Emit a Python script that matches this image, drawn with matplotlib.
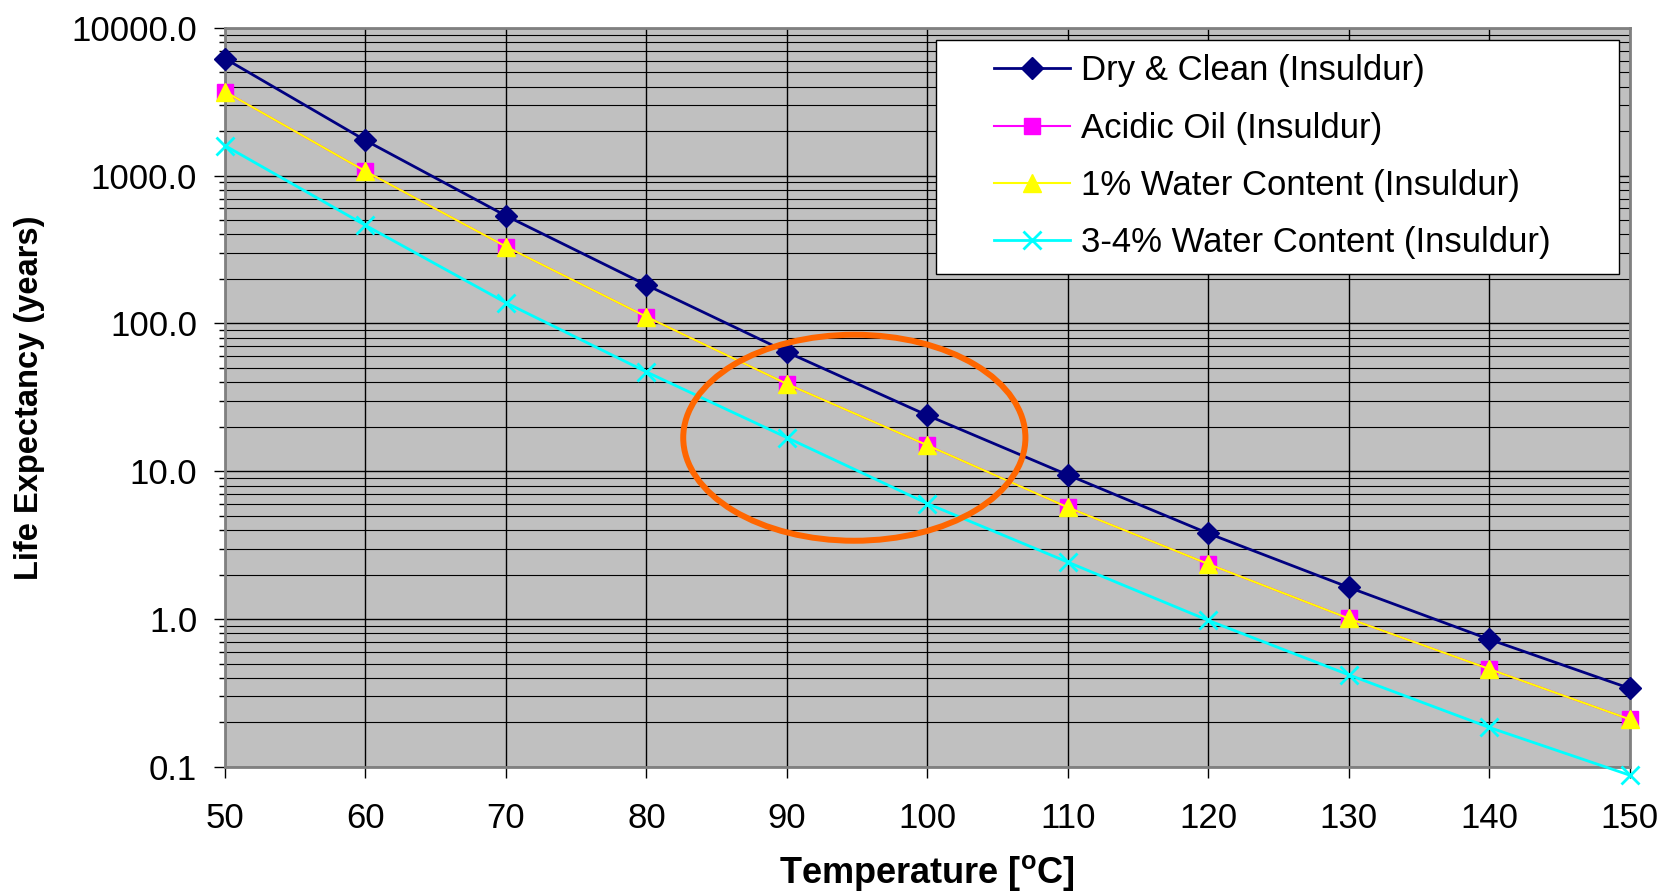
import numpy as np
import matplotlib.pyplot as plt
from matplotlib.patches import Ellipse, Rectangle
from matplotlib.ticker import LogLocator, NullFormatter

plt.rcParams['font.family'] = ['Liberation Sans', 'DejaVu Sans']

temps = [50, 60, 70, 80, 90, 100, 110, 120, 130, 140, 150]
dry_clean = [6190, 1730, 535, 182, 64, 23.9, 9.45, 3.8, 1.64, 0.73, 0.34]
acidic_oil = [3700, 1070, 331, 111, 39, 15.0, 5.7, 2.36, 1.01, 0.46, 0.21]
water_1 = [3700, 1070, 331, 111, 39, 15.0, 5.7, 2.36, 1.01, 0.46, 0.21]
water_34 = [1595, 461, 138, 47, 16.9, 6.05, 2.43, 0.98, 0.42, 0.185, 0.088]
ytick_vals = [0.1, 1, 10, 100, 1000, 10000]
ytick_labels = ['0.1', '1.0', '10.0', '100.0', '1000.0', '10000.0']

fig = plt.figure(figsize=(16.63, 8.96), dpi=100)
ax = fig.add_axes([0.1353, 0.144, 0.8447, 0.825])
ax.set_facecolor('#C0C0C0')

ax.plot(temps, dry_clean, '-', color='#000080', lw=2, marker='D', ms=11,
        label='Dry & Clean (Insuldur)', clip_on=False, zorder=4)
ax.plot(temps, acidic_oil, '-', color='#FF00FF', lw=1.5, marker='s', ms=11,
        label='Acidic Oil (Insuldur)', clip_on=False, zorder=3)
ax.plot(temps, water_1, '-', color='#FFFF00', lw=1.5, marker='^', ms=13,
        label='1% Water Content (Insuldur)', clip_on=False, zorder=4)
ax.plot(temps, water_34, '-', color='#00FFFF', lw=2, marker='x', ms=13, mew=2,
        label='3-4% Water Content (Insuldur)', clip_on=False, zorder=4)

ax.set_yscale('log')
ax.set_ylim(0.1, 10000)
ax.set_xlim(50, 150)
ax.set_xticks(temps)
ax.set_yticks(ytick_vals)
ax.set_yticklabels(ytick_labels)
ax.yaxis.set_minor_locator(LogLocator(base=10, subs=np.arange(2, 10)))
ax.yaxis.set_minor_formatter(NullFormatter())

ax.grid(True, which='major', axis='both', color='black', lw=1)
ax.grid(True, which='minor', axis='y', color='black', lw=0.8)
ax.set_axisbelow(True)

ax.tick_params(axis='both', which='major', direction='out', length=8,
               width=1, labelsize=25, color='black')
ax.tick_params(axis='x', which='major', pad=17)
ax.tick_params(axis='y', which='major', pad=12)
ax.tick_params(axis='y', which='minor', direction='out', length=4, width=1)
for s in ax.spines.values():
    s.set_color('#808080')
    s.set_linewidth(2)

ax.set_xlabel('Temperature [$\\mathregular{^{o}}$C]', fontsize=26,
              fontweight='bold', labelpad=13)
ax.set_ylabel('Life Expectancy (years)', fontsize=23.5, fontweight='bold',
              labelpad=19)

ell = Ellipse((0.448, 0.4454), 0.2436, 0.2787, transform=ax.transAxes,
              fill=False, edgecolor='#FF6600', lw=4.3, zorder=6)
ax.add_patch(ell)

# legend box drawn separately so the padding can differ per side
box = Rectangle((0.506, 0.667), 0.486, 0.316, transform=ax.transAxes,
                facecolor='white', edgecolor='black', lw=1, zorder=8)
ax.add_patch(box)
leg = ax.legend(loc='upper left', bbox_to_anchor=(0.5475, 0.964), fontsize=25,
                frameon=False, handlelength=2.2, labelspacing=0.7,
                borderpad=0, handletextpad=0.3, borderaxespad=0)
leg.set_zorder(10)

fig.savefig('out.png', dpi=100)
